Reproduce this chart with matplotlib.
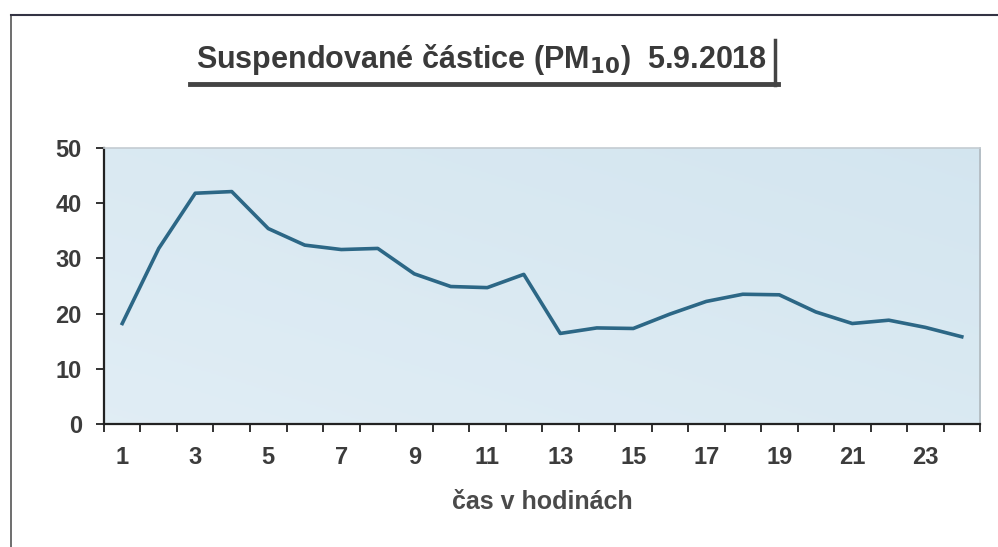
import numpy as np
import matplotlib
matplotlib.use("Agg")
import matplotlib.pyplot as plt
from matplotlib.lines import Line2D

hours = list(range(1, 25))
pm10 = [18.2, 31.8, 41.8, 42.1, 35.4, 32.4, 31.6, 31.8, 27.2, 24.9, 24.7, 27.1,
        16.4, 17.4, 17.3, 19.9, 22.2, 23.5, 23.4, 20.3, 18.2, 18.8, 17.5, 15.8]
xlabels = [str(h) for h in range(1, 24, 2)]
yticks = [0, 10, 20, 30, 40, 50]

plt.rcParams["font.family"] = ["Liberation Sans", "DejaVu Sans"]
txt_color = "#3c3c3c"

fig = plt.figure(figsize=(9.98, 5.47), dpi=100)
ax = fig.add_axes([0.1042, 0.2249, 0.8778, 0.5046])

# light blue background, slightly lighter towards the bottom left
gx = np.linspace(0, 1, 200)
gy = np.linspace(0, 1, 100)
GX, GY = np.meshgrid(gx, gy)
t = np.clip(0.5 * GX + 0.5 * GY, 0, 1)
c0 = np.array([0.88, 0.93, 0.96])
c1 = np.array([0.83, 0.90, 0.94])
img = c0 + (c1 - c0) * t[..., None]
ax.imshow(img, extent=[0, 1, 0, 1], transform=ax.transAxes, origin="lower",
          aspect="auto", zorder=0)

ax.plot(hours, pm10, color="#2c6786", linewidth=2.6, zorder=3,
        solid_joinstyle="round")

ax.set_xlim(0.5, 24.5)
ax.set_ylim(0, 50)

ax.set_yticks(yticks)
ax.set_yticklabels([str(v) for v in yticks])
ax.set_xticks(np.arange(0.5, 25, 1))
ax.set_xticklabels([])
ax.set_xticks(range(1, 24, 2), minor=True)
ax.set_xticklabels(xlabels, minor=True)
ax.tick_params(axis="x", which="major", direction="out", length=6, width=1.3, color="#222222")
ax.tick_params(axis="x", which="minor", length=0, pad=16, labelsize=17, labelcolor=txt_color)
ax.tick_params(axis="y", direction="out", length=6, width=1.3, color="#222222",
               pad=10, labelsize=17, labelcolor=txt_color)
for lab in ax.get_xticklabels(minor=True) + ax.get_yticklabels():
    lab.set_fontweight("bold")

ax.spines["left"].set_color("#222222")
ax.spines["left"].set_linewidth(1.6)
ax.spines["bottom"].set_color("#222222")
ax.spines["bottom"].set_linewidth(1.6)
ax.spines["top"].set_color("#c4ccd2")
ax.spines["top"].set_linewidth(1.2)
ax.spines["right"].set_color("#b0b8be")
ax.spines["right"].set_linewidth(1.2)

ax.set_xlabel("čas v hodinách", fontsize=18, fontweight="bold", color="#4a4a4a", labelpad=15)

# title with box shadow
fig.text(0.483, 0.892, r"Suspendované částice (PM$_{\mathbf{10}}$)  5.9.2018",
         ha="center", va="center", fontsize=22, fontweight="bold", color="#3a3a3a")
fig.add_artist(Line2D([190 / 998, 778 / 998], [1 - 84 / 547, 1 - 84 / 547],
                      color="#444444", linewidth=3.5))
fig.add_artist(Line2D([775 / 998, 775 / 998], [1 - 40 / 547, 1 - 85 / 547],
                      color="#444444", linewidth=2.5))

# scanned page frame
fig.add_artist(Line2D([11 / 998, 11 / 998], [1 - 15 / 547, 0], color="#555555", linewidth=1.2))
fig.add_artist(Line2D([11 / 998, 1], [1 - 15 / 547, 1 - 15 / 547], color="#333344", linewidth=1.5))

fig.savefig("out.png", dpi=100)
